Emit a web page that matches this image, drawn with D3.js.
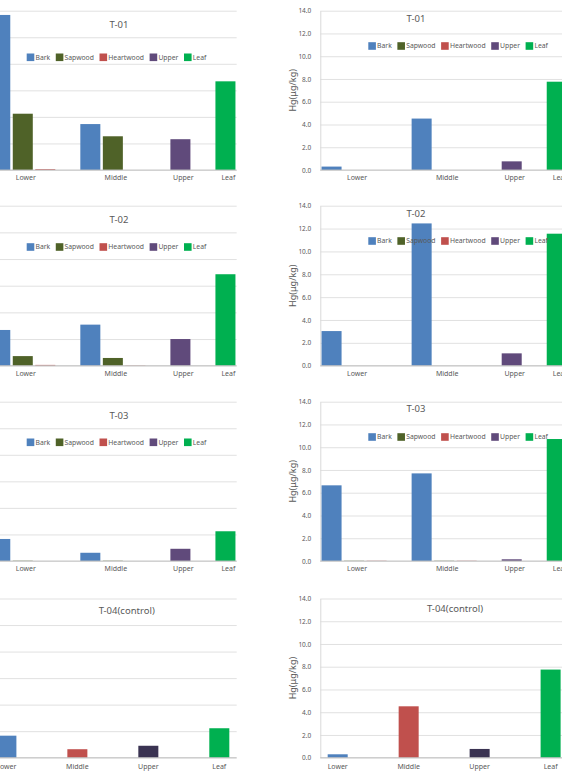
<!DOCTYPE html>
<meta charset="utf-8">
<script src="https://d3js.org/d3.v7.min.js"></script>
<style>
  body { margin: 0; background: #fff; }
  text { font-family: "Noto Sans", "DejaVu Sans", sans-serif; fill: #595959; }
</style>
<div id="chart"></div>
<script>

// series and categories
var seriesNames = ["Bark", "Sapwood", "Heartwood", "Upper", "Leaf"];
var seriesColors = ["#4F81BD", "#4F6228", "#C0504D", "#604A7B", "#00B050"];
var positions = ["Lower", "Middle", "Upper", "Leaf"];
var groupSeries = [["Bark", "Sapwood", "Heartwood"], ["Bark", "Sapwood", "Heartwood"], ["Upper"], ["Leaf"]];

// left column (axis cut off in the picture, values in grid units)
var leftT01 = [[5.84, 2.12, 0.03], [1.73, 1.27, 0], [1.16], [3.34]];
var leftT02 = [[1.34, 0.36, 0.03], [1.54, 0.29, 0.01], [1.0], [3.43]];
var leftT03 = [[0.83, 0.01, 0], [0.31, 0.01, 0], [0.46], [1.12]];
var leftT04 = [0.83, 0.32, 0.45, 1.11];

// right column, Hg(ug/kg)
var rightT01 = [[0.3, 0, 0], [4.52, 0, 0], [0.76], [7.76]];
var rightT02 = [[3.03, 0, 0], [12.45, 0, 0], [1.08], [11.55]];
var rightT03 = [[6.65, 0.02, 0.02], [7.7, 0.02, 0.02], [0.15], [10.72]];
var rightT04 = [0.3, 4.52, 0.77, 7.75];

// control panel colours (one bar per position)
var controlColors = ["#4F81BD", "#C0504D", "#3A3352", "#00B050"];

var leftTicks = [0, 1, 2, 3, 4, 5, 6];
var rightTicks = [0, 2, 4, 6, 8, 10, 12, 14];

var W = 562, H = 775;
var plotW = 247.7;
var colX = [-11, 320.3];
var rowTop = [10.7, 205.7, 401.7, 598.5];
var rowBase = [170, 365.7, 561, 757.7];

var svg = d3.select("#chart").append("svg")
  .attr("width", W)
  .attr("height", H);

var color = d3.scaleOrdinal().domain(seriesNames).range(seriesColors);

function drawFrame(g, y, ticks, isRight) {
  // gridlines
  g.append("g")
    .call(d3.axisLeft(y).tickValues(ticks).tickSize(-plotW).tickFormat(""))
    .call(function(a) {
      a.select(".domain").remove();
      a.selectAll(".tick line").attr("stroke", "#d9d9d9").attr("stroke-width", 0.8);
    });
  if (isRight) {
    var ax = g.append("g")
      .call(d3.axisLeft(y).tickValues(ticks).tickSize(0).tickPadding(9).tickFormat(d3.format(".1f")));
    ax.select(".domain").attr("stroke", "#d9d9d9");
    ax.selectAll(".tick text").style("font-size", "6.5px").attr("fill", "#595959");
  }
}

function drawLegend(g, x0, yc) {
  var xx = x0;
  seriesNames.forEach(function(s) {
    g.append("rect")
      .attr("x", xx).attr("y", yc - 3.8)
      .attr("width", 7.6).attr("height", 7.6)
      .attr("fill", color(s));
    var t = g.append("text")
      .attr("x", xx + 8.8).attr("y", yc + 2.4)
      .style("font-size", "6.8px")
      .text(s);
    xx += 8.8 + t.node().getComputedTextLength() + 5.6;
  });
}

function groupedPanel(col, row, values, title, titleX, titleDy, legendX, legendDy) {
  var left = colX[col], top = rowTop[row], base = rowBase[row];
  var isRight = col === 1;
  var g = svg.append("g").attr("transform", "translate(" + left + ",0)");

  var y = d3.scaleLinear()
    .domain(isRight ? [0, 14] : [0, 6])
    .range([base, top]);

  // slots: each bar of a group takes one slot, one empty slot between groups
  var slots = [], bars = [];
  groupSeries.forEach(function(list, gi) {
    list.forEach(function(s, si) {
      var key = gi + "-" + si;
      slots.push(key);
      bars.push({ key: key, series: s, value: values[gi][si] });
    });
    if (gi < groupSeries.length - 1) slots.push("gap" + gi);
  });
  var x = d3.scaleBand().domain(slots).range([0, plotW])
    .paddingInner(0.111).paddingOuter(0.0555);

  drawFrame(g, y, isRight ? rightTicks : leftTicks, isRight);

  g.selectAll("rect.bar")
    .data(bars)
    .enter().append("rect")
      .attr("class", "bar")
      .attr("x", function(d) { return x(d.key); })
      .attr("width", x.bandwidth())
      .attr("y", function(d) { return y(d.value); })
      .attr("height", function(d) { return base - y(d.value); })
      .attr("fill", function(d) { return color(d.series); });

  // baseline
  g.append("line")
    .attr("x1", 0).attr("x2", plotW)
    .attr("y1", base).attr("y2", base)
    .attr("stroke", "#bfbfbf").attr("stroke-width", 0.9);

  // category labels at the middle slot of each group
  positions.forEach(function(p, gi) {
    var mid = Math.floor((groupSeries[gi].length - 1) / 2);
    g.append("text")
      .attr("x", x(gi + "-" + mid) + x.bandwidth() / 2 + 3)
      .attr("y", base + 10)
      .attr("text-anchor", "middle")
      .style("font-size", "7px")
      .text(p);
  });

  g.append("text")
    .attr("x", titleX - left).attr("y", top + titleDy + 3.3)
    .attr("text-anchor", "middle")
    .style("font-size", "9.5px")
    .text(title);

  drawLegend(g, legendX - left, top + legendDy);

  if (isRight) yTitle(top, base);
}

function controlPanel(col, row, values, title, titleX, titleDy) {
  var left = colX[col], top = rowTop[row], base = rowBase[row];
  var isRight = col === 1;
  var g = svg.append("g").attr("transform", "translate(" + left + ",0)");

  var y = d3.scaleLinear()
    .domain(isRight ? [0, 14] : [0, 6])
    .range([base, top]);
  var x = d3.scaleBand().domain(positions).range([0, plotW])
    .paddingInner(0.718).paddingOuter(0.104);

  drawFrame(g, y, isRight ? rightTicks : leftTicks, isRight);

  g.selectAll("rect.bar")
    .data(values)
    .enter().append("rect")
      .attr("class", "bar")
      .attr("x", function(d, i) { return x(positions[i]); })
      .attr("width", x.bandwidth())
      .attr("y", function(d) { return y(d); })
      .attr("height", function(d) { return base - y(d); })
      .attr("fill", function(d, i) { return controlColors[i]; });

  g.append("line")
    .attr("x1", 0).attr("x2", plotW)
    .attr("y1", base).attr("y2", base)
    .attr("stroke", "#bfbfbf").attr("stroke-width", 0.9);

  g.selectAll("text.cat")
    .data(positions)
    .enter().append("text")
      .attr("class", "cat")
      .attr("x", function(d) { return x(d) + x.bandwidth() / 2; })
      .attr("y", base + 11)
      .attr("text-anchor", "middle")
      .style("font-size", "7px")
      .text(function(d) { return d; });

  g.append("text")
    .attr("x", titleX - left).attr("y", top + titleDy + 3.3)
    .attr("text-anchor", "middle")
    .style("font-size", "9.5px")
    .text(title);

  if (isRight) yTitle(top, base);
}

function yTitle(top, base) {
  svg.append("text")
    .attr("transform", "translate(" + 295.5 + "," + ((top + base) / 2) + ") rotate(-90)")
    .attr("text-anchor", "middle")
    .style("font-size", "9px")
    .text("Hg(\u03bcg/kg)");
}

// left column
groupedPanel(0, 0, leftT01, "T-01", 119, 14.3, 26.7, 46.6);
groupedPanel(0, 1, leftT02, "T-02", 119, 14.3, 26.7, 41.3);
groupedPanel(0, 2, leftT03, "T-03", 119, 14.3, 26.7, 40.6);
controlPanel(0, 3, leftT04, "T-04(control)", 126.7, 11.7);

// right column
groupedPanel(1, 0, rightT01, "T-01", 416, 8.3, 368.3, 35.3);
groupedPanel(1, 1, rightT02, "T-02", 416, 7.6, 368.3, 35.3);
groupedPanel(1, 2, rightT03, "T-03", 416, 7.3, 368.3, 35.3);
controlPanel(1, 3, rightT04, "T-04(control)", 455, 10);

</script>
